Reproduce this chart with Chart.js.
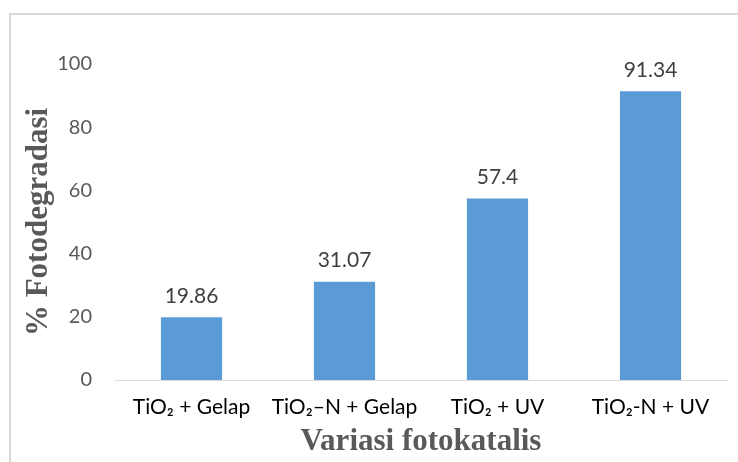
<!DOCTYPE html>
<html>
<head>
<meta charset="utf-8">
<script src="https://cdn.jsdelivr.net/npm/chart.js@4.4.1/dist/chart.umd.min.js"></script>
<style>
  html, body { margin: 0; padding: 0; background: #fff; }
  #wrap { width: 738px; height: 462px; }
</style>
</head>
<body>
<div id="wrap"><canvas id="chart" width="738" height="462"></canvas></div>
<script>
const categories = ['TiO\u2082 + Gelap', 'TiO\u2082\u2013N + Gelap', 'TiO\u2082 + UV', 'TiO\u2082-N + UV'];
const degradation = [19.86, 31.07, 57.4, 91.34];
const valueLabels = ['19.86', '31.07', '57.4', '91.34'];
const yTicks = [0, 20, 40, 60, 80, 100];

const frame = {
  id: 'frame',
  beforeDraw(chart) {
    const ctx = chart.ctx;
    ctx.save();
    ctx.strokeStyle = '#d9d9d9';
    ctx.lineWidth = 2;
    ctx.strokeRect(10, 14, 800, 520);
    ctx.restore();
  }
};

const barValues = {
  id: 'barValues',
  afterDatasetsDraw(chart) {
    const ctx = chart.ctx;
    const meta = chart.getDatasetMeta(0);
    ctx.save();
    ctx.font = '21px Lato, sans-serif';
    ctx.fillStyle = '#404040';
    ctx.textAlign = 'center';
    ctx.textBaseline = 'bottom';
    meta.data.forEach((bar, i) => {
      ctx.fillText(valueLabels[i], bar.x, bar.y - 11);
    });
    ctx.restore();
  }
};

new Chart(document.getElementById('chart'), {
  type: 'bar',
  data: {
    labels: categories,
    datasets: [{
      data: degradation,
      backgroundColor: '#5b9bd5',
      barPercentage: 0.4,
      categoryPercentage: 1
    }]
  },
  options: {
    responsive: false,
    animation: false,
    layout: { padding: { top: 64, right: 11, bottom: 0, left: 0 } },
    plugins: { legend: { display: false }, tooltip: { enabled: false } },
    scales: {
      x: {
        grid: { display: false, drawTicks: false },
        border: { display: true, color: '#d9d9d9', width: 1 },
        ticks: { color: '#000', font: { family: 'Lato', size: 21 }, padding: 15, maxRotation: 0 },
        title: {
          display: true,
          text: 'Variasi fotokatalis',
          color: '#595959',
          font: { family: 'Liberation Serif', size: 31, weight: 'bold' },
          padding: { top: 0, bottom: 1 }
        },
        afterFit(scale) { scale.height = 82; }
      },
      y: {
        min: 0,
        max: 100,
        afterBuildTicks(scale) { scale.ticks = yTicks.map(v => ({ value: v })); },
        grid: { display: false, drawTicks: false },
        border: { display: false },
        ticks: { color: '#595959', font: { family: 'Lato', size: 20 }, padding: 23 },
        title: {
          display: true,
          text: '% Fotodegradasi',
          color: '#595959',
          font: { family: 'Liberation Serif', size: 31, weight: 'bold' },
          padding: { top: 20, bottom: 0 }
        },
        afterFit(scale) { scale.width = 115; }
      }
    }
  },
  plugins: [frame, barValues]
});
</script>
</body>
</html>
